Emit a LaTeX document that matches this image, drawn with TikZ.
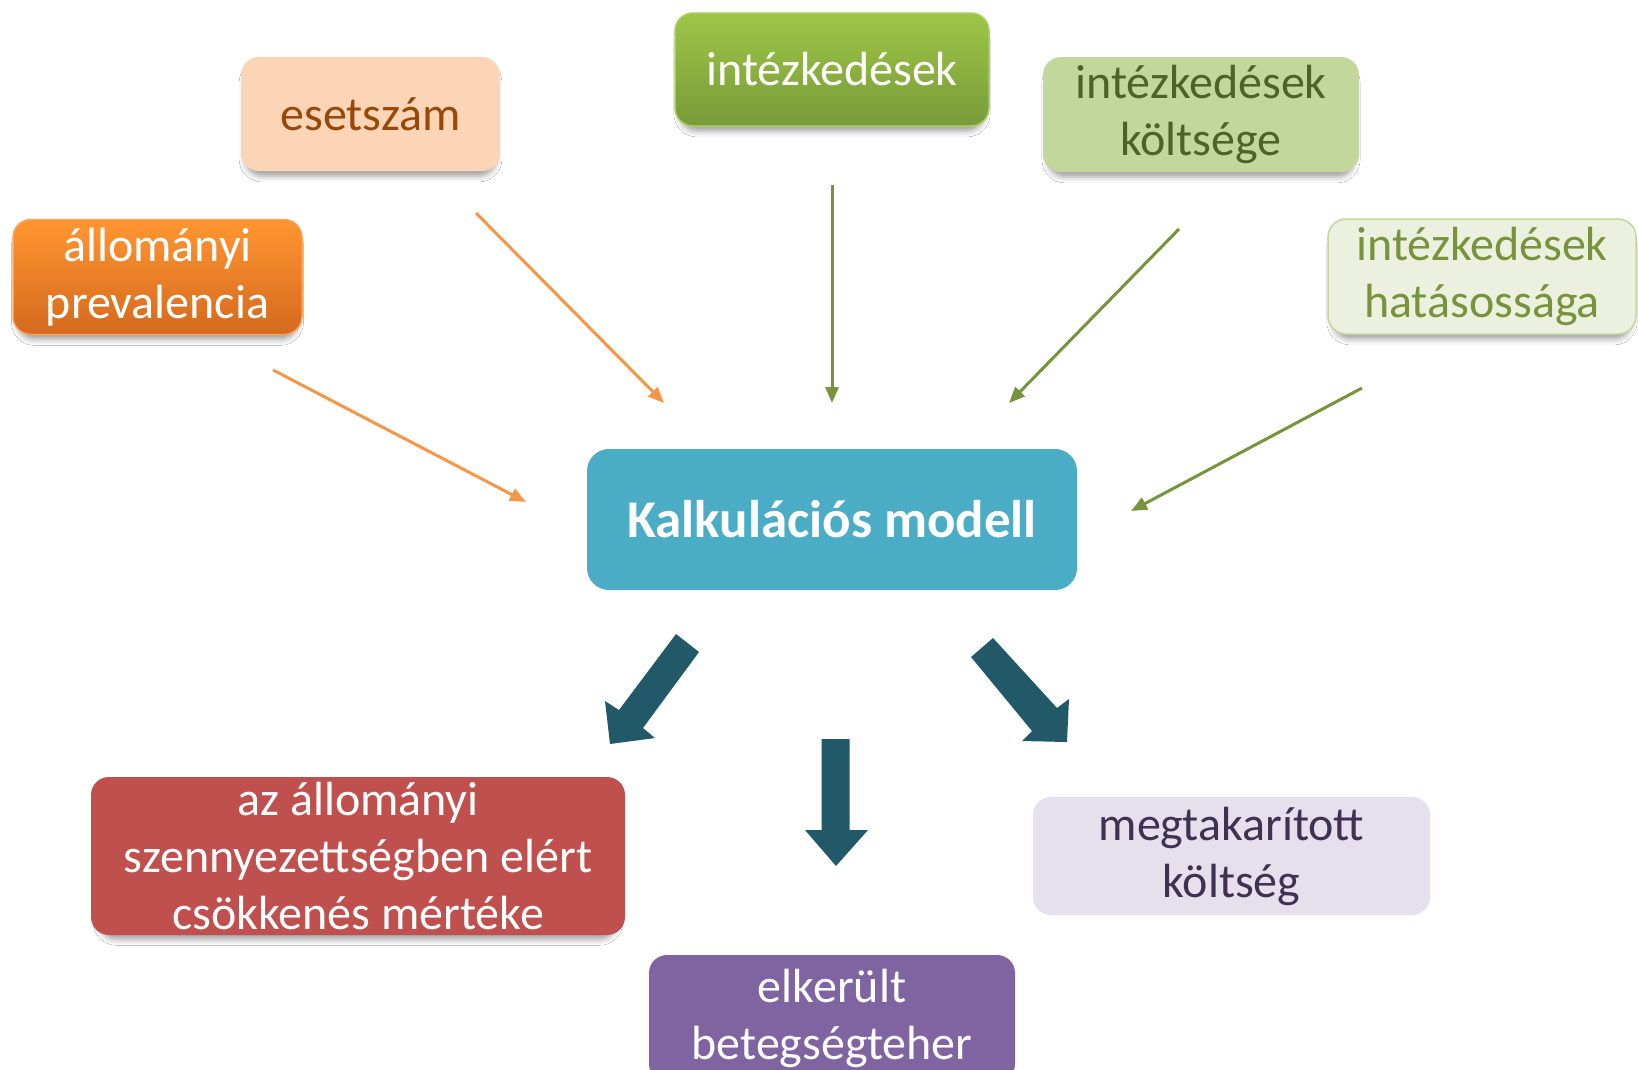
\documentclass[tikz,border=0pt]{standalone}
\usepackage{fontspec}
\setmainfont{Carlito}
\usetikzlibrary{arrows.meta,shadows.blur}

\definecolor{peach}{HTML}{FBD5B5}
\definecolor{peachtext}{HTML}{984807}
\definecolor{ortop}{HTML}{FF9631}
\definecolor{orbot}{HTML}{D5691E}
\definecolor{orborder}{HTML}{F9A45A}
\definecolor{grtop}{HTML}{9DC646}
\definecolor{grbot}{HTML}{779B3A}
\definecolor{grborder}{HTML}{A9CF5E}
\definecolor{olive}{HTML}{C3D69B}
\definecolor{olivetext}{HTML}{4F6228}
\definecolor{palegreen}{HTML}{EBF1DE}
\definecolor{palegreentext}{HTML}{77933C}
\definecolor{teal}{HTML}{4BACC6}
\definecolor{brick}{HTML}{C0504D}
\definecolor{violet}{HTML}{8064A2}
\definecolor{lilac}{HTML}{E5E0EC}
\definecolor{lilactext}{HTML}{403152}
\definecolor{feedorange}{HTML}{F79646}
\definecolor{feedgreen}{HTML}{77933C}
\definecolor{blockteal}{HTML}{215968}

\begin{document}
\begin{tikzpicture}[x=1pt,y=-1pt,
  box/.style={rectangle, rounded corners=18pt, inner sep=0pt, align=center,
    font=\fontsize{48}{57}\selectfont},
  boxshadow/.style={blur shadow={shadow blur radius=6pt, shadow xshift=0pt,
    shadow yshift=-7pt, shadow scale=0.97, shadow opacity=38}},
  feed/.style={line width=3pt, -{Triangle[length=16pt,width=13pt]}},
  blockarrow/.style={fill=blockteal, draw=none}]

\clip (0,0) rectangle (1638,1069);
\fill[white] (0,0) rectangle (1638,1069);

% input boxes
\node[box, boxshadow, fill=peach, text=peachtext,
  minimum width=259pt, minimum height=114pt] (eset) at (370.5,114) {esetszám};
\node[box, boxshadow, top color=ortop, bottom color=orbot, draw=orborder,
  line width=1.5pt, text=white,
  minimum width=289pt, minimum height=115pt] (prev) at (157.5,277)
  {állományi\\prevalencia};
\node[box, boxshadow, top color=grtop, bottom color=grbot, draw=grborder,
  line width=1.5pt, text=white,
  minimum width=314pt, minimum height=113pt] (int) at (832,69.5) {intézkedések};
\node[box, boxshadow, fill=olive, text=olivetext,
  minimum width=316pt, minimum height=115pt] (kolt) at (1201,114.5)
  {intézkedések\\költsége};
\node[box, boxshadow, fill=palegreen, draw=olive, line width=1.5pt,
  text=palegreentext,
  minimum width=308pt, minimum height=115pt] (hat) at (1482,276.5)
  {intézkedések\\hatásossága};

% central model
\node[box, fill=teal, text=white, rounded corners=22pt,
  font=\fontsize{53}{63}\selectfont\bfseries,
  minimum width=490pt, minimum height=141pt] (model) at (832,519.5)
  {Kalkulációs modell};

% results
\node[box, boxshadow, fill=brick, text=white,
  minimum width=534pt, minimum height=158pt] (csokk) at (358,856)
  {az állományi\\szennyezettségben elért\\csökkenés mértéke};
\node[box, fill=violet, text=white,
  minimum width=366pt, minimum height=127pt] (teher) at (832,1018.5)
  {elkerült\\betegségteher};
\node[box, fill=lilac, text=lilactext,
  minimum width=397pt, minimum height=118pt] (megt) at (1231.5,856)
  {megtakarított\\költség};

% end points of the input arrows
\coordinate (p1) at (273,370);  \coordinate (q1) at (526,502);
\coordinate (p2) at (476,213);  \coordinate (q2) at (664,403);
\coordinate (p3) at (832,185);  \coordinate (q3) at (832,403);
\coordinate (p4) at (1179,229); \coordinate (q4) at (1009,403);
\coordinate (p5) at (1362,388); \coordinate (q5) at (1131,511);

\draw[feed, feedorange] (p1) -- (q1);
\draw[feed, feedorange] (p2) -- (q2);
\draw[feed, feedgreen] (p3) -- (q3);
\draw[feed, feedgreen] (p4) -- (q4);
\draw[feed, feedgreen] (p5) -- (q5);

% output block arrows
\fill[blockarrow] (676,634) -- (699,652) -- (643,728) -- (655,738)
  -- (610,744) -- (605,701) -- (619,710) -- cycle;
\fill[blockarrow] (821.5,739) -- (849.5,739) -- (849.5,830) -- (868,830)
  -- (836,866) -- (805,830) -- (821.5,830) -- cycle;
\fill[blockarrow] (993,638) -- (1057,708) -- (1069,699) -- (1067,742)
  -- (1022,741) -- (1032,731) -- (971,657) -- cycle;

\end{tikzpicture}
\end{document}
